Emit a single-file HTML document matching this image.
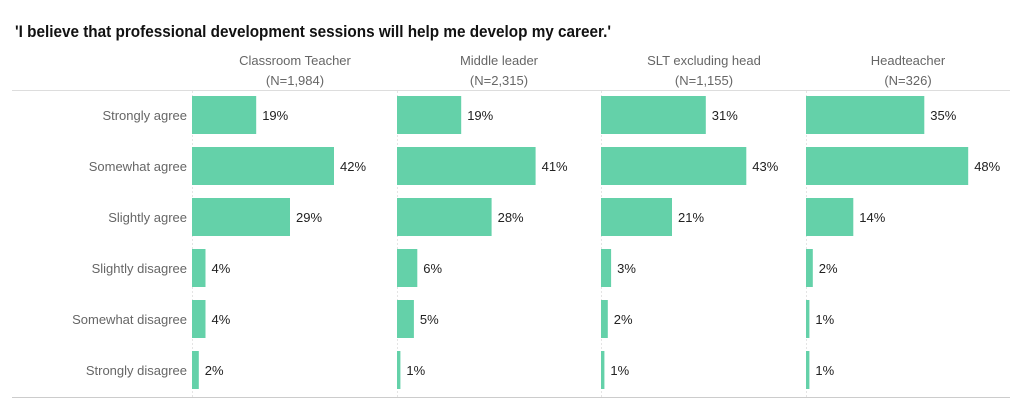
<!DOCTYPE html>
<html><head><style>
body{margin:0;background:#fff;}
svg text{font-family:"Liberation Sans",sans-serif;}
</style></head><body>
<svg width="1024" height="410" xmlns="http://www.w3.org/2000/svg">
<text x="15" y="37" font-size="17" font-weight="bold" fill="#111" textLength="596" lengthAdjust="spacingAndGlyphs">'I believe that professional development sessions will help me develop my career.'</text>
<g font-size="13" fill="#666" text-anchor="middle">
<text x="295" y="65">Classroom Teacher</text><text x="295" y="85">(N=1,984)</text>
<text x="499" y="65">Middle leader</text><text x="499" y="85">(N=2,315)</text>
<text x="704" y="65">SLT excluding head</text><text x="704" y="85">(N=1,155)</text>
<text x="908" y="65">Headteacher</text><text x="908" y="85">(N=326)</text>
</g>
<line x1="12" y1="90.5" x2="1010" y2="90.5" stroke="#ddd"/>
<line x1="12" y1="397.5" x2="1010" y2="397.5" stroke="#ccc"/>
<g stroke="#e4e4e4" stroke-dasharray="2,2">
<line x1="192.5" y1="91" x2="192.5" y2="397"/><line x1="397.5" y1="91" x2="397.5" y2="397"/>
<line x1="601.5" y1="91" x2="601.5" y2="397"/><line x1="806.5" y1="91" x2="806.5" y2="397"/>
</g>
<g font-size="13" fill="#666" text-anchor="end">
<text x="187" y="120">Strongly agree</text>
<text x="187" y="171">Somewhat agree</text>
<text x="187" y="222">Slightly agree</text>
<text x="187" y="273">Slightly disagree</text>
<text x="187" y="324">Somewhat disagree</text>
<text x="187" y="375">Strongly disagree</text>
</g>
<g id="bars"></g>
</svg>
<script>
var d=[[19,42,29,4,4,2],[19,41,28,6,5,1],[31,43,21,3,2,1],[35,48,14,2,1,1]];
var xs=[192,397,601,806],g=document.getElementById('bars'),s='';
for(var c=0;c<4;c++)for(var r=0;r<6;r++){var w=d[c][r]*3.38,y=96+51*r;
s+='<rect x="'+xs[c]+'" y="'+y+'" width="'+w.toFixed(1)+'" height="38" fill="#64d1a9"/>';
s+='<text x="'+(xs[c]+w+6).toFixed(1)+'" y="'+(y+24)+'" font-size="13" fill="#222">'+d[c][r]+'%</text>';}
g.innerHTML=s;
</script>
</body></html>
